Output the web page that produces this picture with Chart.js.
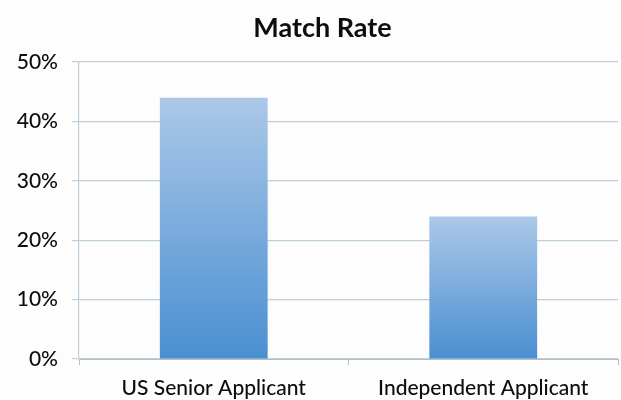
<!DOCTYPE html>
<html>
<head>
<meta charset="utf-8">
<script src="https://cdn.jsdelivr.net/npm/chart.js@4"></script>
<style>
  html, body { margin: 0; padding: 0; background: #fdfdfe; }
  #wrap { width: 621px; height: 400px; }
</style>
</head>
<body>
<div id="wrap"><canvas id="matchChart" width="621" height="400"></canvas></div>
<script>
// Datos del gráfico
const categories = ['US Senior Applicant', 'Independent Applicant'];
const matchRate = [44, 24];
const yTicks = [0, 10, 20, 30, 40, 50];
const chartTitle = 'Match Rate';

// Degradado por barra: claro arriba, oscuro abajo
function barGradient(context) {
    const chart = context.chart;
    const yScale = chart.scales.y;
    if (!chart.chartArea || !yScale) return '#7fb0e0';
    const top = yScale.getPixelForValue(context.raw);
    const bottom = yScale.getPixelForValue(0);
    const g = chart.ctx.createLinearGradient(0, top, 0, bottom);
    g.addColorStop(0, '#abc8e8');
    g.addColorStop(1, '#4a8fd1');
    return g;
}

// Título dibujado a mano, un poco a la derecha del centro (como en el original)
const titlePlugin = {
    id: 'manualTitle',
    afterDraw(chart) {
        const c = chart.ctx;
        c.save();
        c.font = 'bold 27px Lato';
        c.fillStyle = '#0d0d0d';
        c.textAlign = 'center';
        c.textBaseline = 'middle';
        c.fillText(chartTitle, chart.width / 2 + 12, 28);
        c.restore();
    }
};

const gridColor = '#bfcfd8';

const ctx = document.getElementById('matchChart').getContext('2d');
new Chart(ctx, {
    type: 'bar',
    data: {
        labels: categories,
        datasets: [{
            data: matchRate,
            backgroundColor: barGradient,
            borderWidth: 0,
            categoryPercentage: 1,
            barPercentage: 0.4
        }]
    },
    plugins: [titlePlugin],
    options: {
        responsive: false,
        animation: false,
        layout: { padding: { left: 0, right: 3, top: 62, bottom: 0 } },
        plugins: {
            legend: { display: false },
            tooltip: { enabled: false },
            title: { display: false }
        },
        scales: {
            x: {
                grid: {
                    offset: true,
                    drawOnChartArea: false,
                    drawTicks: true,
                    tickLength: 6,
                    color: '#b4bec6'
                },
                border: { display: true, color: '#b4bec6', width: 1 },
                ticks: {
                    color: '#0d0d0d',
                    padding: 11,
                    font: { family: 'Lato', size: 21, weight: '500' }
                },
                afterFit: function(scale) { scale.height = 41; }
            },
            y: {
                min: 0,
                max: 50,
                afterBuildTicks: function(scale) {
                    scale.ticks = yTicks.map(v => ({ value: v }));
                },
                grid: {
                    color: gridColor,
                    tickLength: 7,
                    lineWidth: 1.2
                },
                border: { display: true, color: gridColor, width: 1.2 },
                ticks: {
                    color: '#0d0d0d',
                    padding: 14,
                    font: { family: 'Lato', size: 21, weight: '500' },
                    callback: function(value) { return value + '%'; }
                },
                afterFit: function(scale) { scale.width = 79; }
            }
        }
    }
});
</script>
</body>
</html>
